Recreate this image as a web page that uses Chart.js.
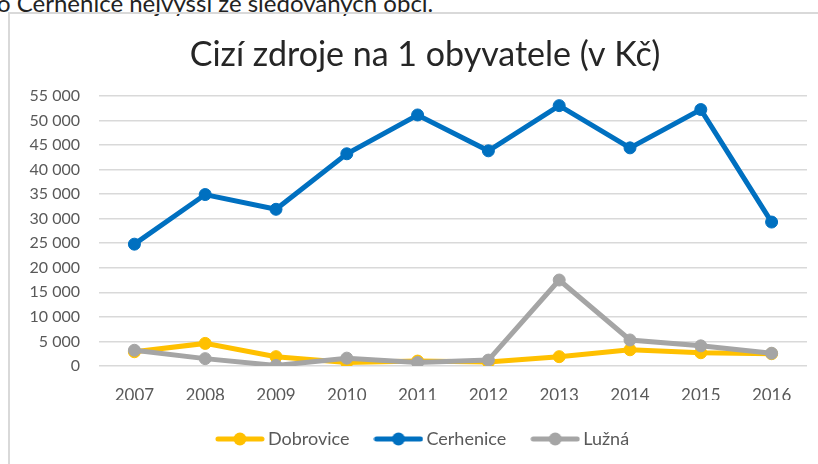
<!DOCTYPE html>
<html><head><meta charset="utf-8">
<script src="https://cdn.jsdelivr.net/npm/chart.js@4.4.1/dist/chart.umd.min.js"></script>
<style>
html,body{margin:0;padding:0;width:818px;height:464px;overflow:hidden;background:#fff;}
#top{position:absolute;left:-3px;top:-9px;font-family:Lato,sans-serif;font-size:24px;line-height:24px;color:#222;white-space:nowrap;}
#box{position:absolute;left:8px;top:12px;width:840px;height:470px;border:2px solid #d9d9d9;box-sizing:border-box;}
#wrap{position:absolute;left:10px;top:14px;width:830px;height:460px;}
</style></head>
<body>
<div id="top">o Cerhenice nejvyšší ze sledovaných obcí.</div>
<div id="box"></div>
<div id="wrap"><canvas id="c"></canvas></div>
<script>
const titleText = 'Cizí zdroje na 1 obyvatele (v Kč)';
const years = ['2007','2008','2009','2010','2011','2012','2013','2014','2015','2016'];
const dobrovice = [2900, 4600, 1900, 700, 1000, 800, 1900, 3300, 2700, 2500];
const cerhenice = [24800, 34900, 31900, 43200, 51100, 43800, 53000, 44400, 52200, 29300];
const luzna = [3200, 1500, 100, 1600, 700, 1200, 17500, 5300, 4100, 2600];
const seriesNames = ['Dobrovice', 'Cerhenice', 'Lužná'];
const seriesColors = ['#FFC000', '#0070C0', '#A5A5A5'];
const yTicks = [0, 5000, 10000, 15000, 20000, 25000, 30000, 35000, 40000, 45000, 50000, 55000];

function fmt(v){ return String(v).replace(/\B(?=(\d{3})+(?!\d))/g, '\u00a0'); }

function markerImg(color){
  const c = document.createElement('canvas');
  c.width = 50; c.height = 16;
  const x = c.getContext('2d');
  x.strokeStyle = color; x.lineWidth = 5; x.lineCap = 'round';
  x.beginPath(); x.moveTo(3, 8); x.lineTo(47, 8); x.stroke();
  x.fillStyle = color; x.beginPath(); x.arc(25, 8, 6.5, 0, Math.PI*2); x.fill();
  return c;
}
const markers = seriesColors.map(markerImg);

const data = [dobrovice, cerhenice, luzna];
const orders = [3, 2, 1];
const datasets = seriesNames.map((n, i) => ({
  label: n,
  data: data[i],
  yAxisID: 'y',
  borderColor: seriesColors[i],
  backgroundColor: seriesColors[i],
  pointBackgroundColor: seriesColors[i],
  pointBorderColor: seriesColors[i],
  borderWidth: 5,
  pointRadius: 6,
  pointBorderWidth: 1,
  tension: 0,
  order: orders[i]
}));

new Chart(document.getElementById('c'), {
  type: 'line',
  data: { labels: years, datasets },
  options: {
    responsive: true,
    maintainAspectRatio: false,
    animation: false,
    layout: { padding: { left: 0, right: 0, top: 0, bottom: 16 } },
    plugins: {
      title: {
        display: true,
        text: titleText,
        color: '#262626',
        font: { family: 'Lato', size: 34, weight: 'normal' },
        padding: { top: 21, bottom: 20 }
      },
      legend: {
        position: 'bottom',
        labels: {
          usePointStyle: true,
          pointStyleWidth: 38,
          boxHeight: 16,
          padding: 30,
          color: '#595959',
          font: { family: 'Lato', size: 18 },
          generateLabels: (chart) => chart.data.datasets.map((d, i) => ({
            text: d.label,
            fillStyle: d.borderColor,
            strokeStyle: d.borderColor,
            fontColor: '#595959',
            pointStyle: markers[i],
            lineWidth: 0,
            datasetIndex: i,
            hidden: false
          }))
        }
      },
      tooltip: { enabled: false }
    },
    scales: {
      x: {
        offset: true,
        grid: { display: false, drawTicks: false },
        border: { display: false },
        ticks: { color: '#595959', font: { family: 'Lato', size: 17 }, padding: 19 },
        afterFit: (s) => { s.height = 34; }
      },
      y: {
        position: 'left',
        min: 0, max: 55000,
        afterBuildTicks: (s) => { s.ticks = yTicks.map(v => ({ value: v })); },
        grid: { color: '#D9D9D9', lineWidth: 1.5, drawTicks: false },
        border: { display: false },
        ticks: { color: '#595959', font: { family: 'Lato', size: 16 }, padding: 19, callback: (v) => fmt(v) },
        afterFit: (s) => { s.width = 89; }
      },
      yRight: {
        position: 'right',
        min: 0, max: 1,
        grid: { display: false, drawTicks: false },
        border: { display: false },
        ticks: { display: false },
        afterFit: (s) => { s.width = 33; }
      }
    }
  }
});
</script>
</body></html>
